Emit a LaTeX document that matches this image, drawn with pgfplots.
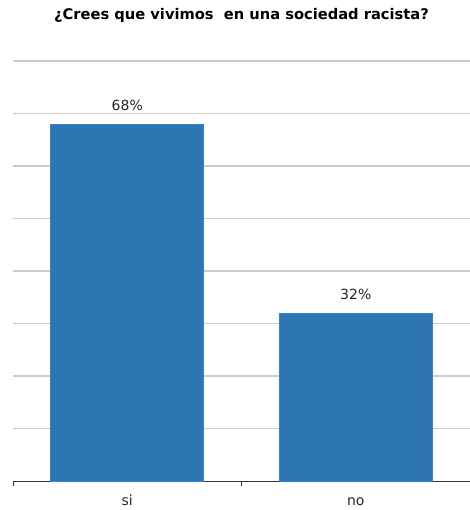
\documentclass[border=0pt]{standalone}
\usepackage{pgfplots}
\pgfplotsset{compat=1.18}
\usepackage{fontspec}
\setmainfont{DejaVu Sans}
\definecolor{barblue}{RGB}{46,117,180}
\definecolor{baredge}{RGB}{55,130,205}
\begin{document}
\begin{tikzpicture}
\path[use as bounding box] (-9.75pt,-21.75pt) rectangle (342.75pt,360.75pt);
\begin{axis}[
  at={(0,0)}, anchor=south west,
  scale only axis, width=342.75pt, height=315pt,
  xmin=-0.5, xmax=1.5, ymin=0, ymax=80,
  clip=false,
  /pgf/number format/assume math mode=true,
  axis x line=bottom, axis y line=left,
  axis line style={-},
  x axis line style={draw=black!80},
  y axis line style={draw=none},
  ytick={10,20,...,80}, yticklabels={},
  ytick style={draw=none},
  ymajorgrids, major grid style={draw=black!20, line width=0.8pt},
  xtick={-0.5,0.5,1.5}, xticklabels={},
  tick align=outside, major tick length=4pt,
  xtick style={draw=black!80},
  extra x ticks={0,1}, extra x tick labels={si,no},
  extra x tick style={major tick length=0pt, grid=none,
     tick label style={font=\fontsize{10.5}{12}\selectfont, text=black!85, text height=1.6ex, text depth=0.3ex, yshift=-6pt}},
  ybar, bar width=0.67,
  nodes near coords={\pgfmathprintnumber{\pgfplotspointmeta}\%},
  every node near coord/.append style={font=\fontsize{10.5}{12}\selectfont, text=black!85, yshift=6pt},
]
\addplot[fill=barblue, draw=baredge, line width=0.6pt] coordinates {(0,68) (1,32)};
\node[font=\fontsize{11}{13}\selectfont\bfseries] at (rel axis cs:0.5,1) [yshift=34.5pt] {¿Crees que vivimos\ \ en una sociedad racista?};
\end{axis}
\end{tikzpicture}
\end{document}
